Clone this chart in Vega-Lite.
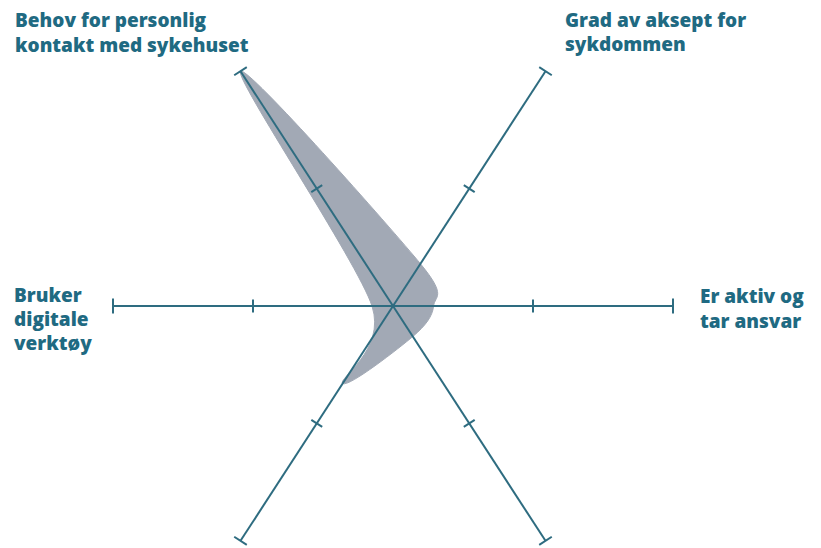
{
  "$schema": "https://vega.github.io/schema/vega-lite/v6.json",
  "width": 821,
  "height": 548,
  "autosize": {"type": "none"},
  "padding": 0,
  "background": "white",
  "config": {"view": {"stroke": null}},
  "data": {
    "values": [
      {"axis": "Behov for personlig kontakt med sykehuset", "label": "Behov for personlig\nkontakt med sykehuset", "angle": 123, "value": 1.0, "idx": 0},
      {"axis": "Grad av aksept for sykdommen", "label": "Grad av aksept for\nsykdommen", "angle": 57, "value": 0.18, "idx": 1},
      {"axis": "Er aktiv og tar ansvar", "label": "Er aktiv og\ntar ansvar", "angle": 0, "value": 0.145, "idx": 2},
      {"axis": "Akse 4", "label": "", "angle": 303, "value": 0.13, "idx": 3},
      {"axis": "Akse 5", "label": "", "angle": 237, "value": 0.33, "idx": 4},
      {"axis": "Bruker digitale verktøy", "label": "Bruker\ndigitale\nverktøy", "angle": 180, "value": 0.075, "idx": 5}
    ]
  },
  "transform": [
    {"calculate": "cos(datum.angle*PI/180)", "as": "ex"},
    {"calculate": "sin(datum.angle*PI/180)", "as": "ey"},
    {"calculate": "datum.value*datum.ex", "as": "px"},
    {"calculate": "datum.value*datum.ey", "as": "py"},
    {"calculate": "0.5*datum.ex", "as": "mx"},
    {"calculate": "0.5*datum.ey", "as": "my"}
  ],
  "layer": [
    {
      "mark": {"type": "line", "interpolate": "cardinal-closed", "tension": 0.15, "fill": "#a2a9b5", "stroke": "#a2a9b5", "strokeWidth": 1},
      "encoding": {
        "x": {"field": "px", "type": "quantitative", "scale": {"domain": [-1.4036, 1.5286], "nice": false, "zero": false}, "axis": null},
        "y": {"field": "py", "type": "quantitative", "scale": {"domain": [-0.8643, 1.0929], "nice": false, "zero": false}, "axis": null},
        "order": {"field": "idx", "type": "quantitative"}
      }
    },
    {
      "mark": {"type": "rule", "color": "#2e6c80", "strokeWidth": 2},
      "encoding": {
        "x": {"field": "ex", "type": "quantitative"},
        "y": {"field": "ey", "type": "quantitative"},
        "x2": {"datum": 0},
        "y2": {"datum": 0}
      }
    },
    {
      "mark": {"type": "point", "shape": "M0,-1L0,1", "filled": false, "stroke": "#2e6c80", "strokeWidth": 2, "size": 225, "opacity": 1},
      "encoding": {
        "x": {"field": "ex", "type": "quantitative"},
        "y": {"field": "ey", "type": "quantitative"},
        "angle": {"field": "angle", "type": "quantitative", "scale": {"domain": [0, 360], "range": [360, 0]}}
      }
    },
    {
      "mark": {"type": "point", "shape": "M0,-1L0,1", "filled": false, "stroke": "#2e6c80", "strokeWidth": 2, "size": 169, "opacity": 1},
      "encoding": {
        "x": {"field": "mx", "type": "quantitative"},
        "y": {"field": "my", "type": "quantitative"},
        "angle": {"field": "angle", "type": "quantitative", "scale": {"domain": [0, 360], "range": [360, 0]}}
      }
    },
    {
      "transform": [{"filter": "datum.idx == 0"}],
      "mark": {"type": "text", "align": "left", "baseline": "alphabetic", "dx": -225.5, "dy": -44, "font": "Open Sans", "fontWeight": 800, "fontSize": 19, "lineHeight": 25, "lineBreak": "\n", "color": "#1f6a82"},
      "encoding": {
        "x": {"field": "ex", "type": "quantitative"},
        "y": {"field": "ey", "type": "quantitative"},
        "text": {"field": "label"}
      }
    },
    {
      "transform": [{"filter": "datum.idx == 1"}],
      "mark": {"type": "text", "align": "left", "baseline": "alphabetic", "dx": 19.5, "dy": -44, "font": "Open Sans", "fontWeight": 800, "fontSize": 19, "lineHeight": 24, "lineBreak": "\n", "color": "#1f6a82"},
      "encoding": {
        "x": {"field": "ex", "type": "quantitative"},
        "y": {"field": "ey", "type": "quantitative"},
        "text": {"field": "label"}
      }
    },
    {
      "transform": [{"filter": "datum.idx == 2"}],
      "mark": {"type": "text", "align": "left", "baseline": "alphabetic", "dx": 27, "dy": -3, "font": "Open Sans", "fontWeight": 800, "fontSize": 19, "lineHeight": 25, "lineBreak": "\n", "color": "#1f6a82"},
      "encoding": {
        "x": {"field": "ex", "type": "quantitative"},
        "y": {"field": "ey", "type": "quantitative"},
        "text": {"field": "label"}
      }
    },
    {
      "transform": [{"filter": "datum.idx == 5"}],
      "mark": {"type": "text", "align": "left", "baseline": "alphabetic", "dx": -99, "dy": -4, "font": "Open Sans", "fontWeight": 800, "fontSize": 19, "lineHeight": 24, "lineBreak": "\n", "color": "#1f6a82"},
      "encoding": {
        "x": {"field": "ex", "type": "quantitative"},
        "y": {"field": "ey", "type": "quantitative"},
        "text": {"field": "label"}
      }
    }
  ]
}
